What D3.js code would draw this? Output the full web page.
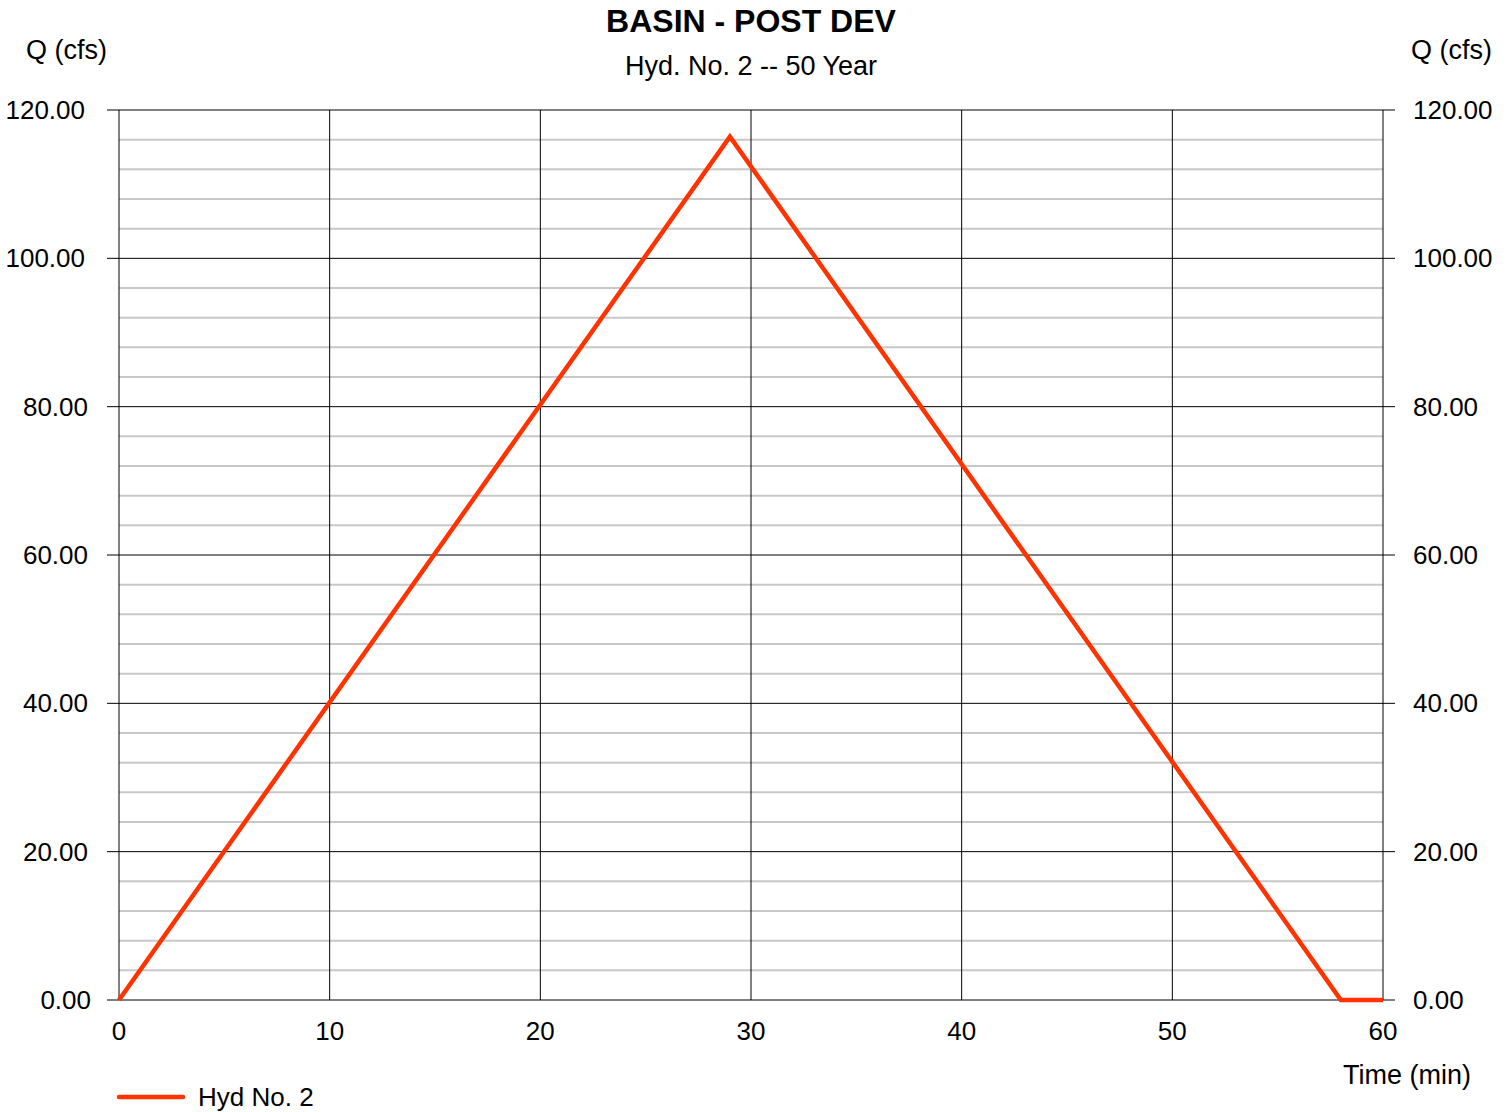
<!DOCTYPE html>
<html>
<head>
<meta charset="utf-8">
<script src="https://cdn.jsdelivr.net/npm/d3@7"></script>
<style>
  body { margin: 0; background: #fff; }
  svg { font-family: "Liberation Sans", Arial, sans-serif; }
</style>
</head>
<body>
<div id="chart"></div>
<script>
const MARGIN = { top: 110, right: 129, bottom: 112, left: 119 };
const W = 1512, H = 1112;
const WIDTH = W - MARGIN.left - MARGIN.right;
const HEIGHT = H - MARGIN.top - MARGIN.bottom;

const TITLE = "BASIN - POST DEV";
const SUBTITLE = "Hyd. No. 2 -- 50 Year";
const SERIES_NAME = "Hyd No. 2";
const timeMin = [0, 29, 58, 60];
const flowCfs = [0, 116.4, 0, 0];
const xTicks = [0, 10, 20, 30, 40, 50, 60];
const yTicks = [0, 20, 40, 60, 80, 100, 120];
const yMinor = d3.range(0, 121, 4).filter(v => v % 20 !== 0);
const LINE_COLOR = "#ff3300";
const FS = 26;

const svg = d3.select("#chart").append("svg")
  .attr("width", W).attr("height", H);

const x = d3.scaleLinear().domain([0, 60]).range([0, WIDTH]);
const y = d3.scaleLinear().domain([0, 120]).range([HEIGHT, 0]);

const g = svg.append("g").attr("transform", `translate(${MARGIN.left},${MARGIN.top})`);

// minor horizontal grid
g.selectAll(".minor").data(yMinor).join("line")
  .attr("x1", 0).attr("x2", WIDTH)
  .attr("y1", d => y(d)).attr("y2", d => y(d))
  .attr("stroke", "#c8c8c8").attr("stroke-width", 2);

// major horizontal grid + ticks on both sides
g.selectAll(".major-y").data(yTicks).join("line")
  .attr("x1", -12).attr("x2", WIDTH + 12)
  .attr("y1", d => y(d)).attr("y2", d => y(d))
  .attr("stroke", "#000").attr("stroke-width", 1);

// vertical grid
g.selectAll(".major-x").data(xTicks).join("line")
  .attr("x1", d => x(d)).attr("x2", d => x(d))
  .attr("y1", 0).attr("y2", HEIGHT)
  .attr("stroke", "#000").attr("stroke-width", 1);

// y labels left (shorter labels sit a little further right, as in the original)
g.selectAll(".yl").data(yTicks).join("text")
  .attr("x", d => -34 + (6 - d.toFixed(2).length) * 3)
  .attr("y", d => y(d)).attr("dy", "0.35em")
  .attr("text-anchor", "end").attr("font-size", FS)
  .text(d => d.toFixed(2));

// y labels right
g.selectAll(".yr").data(yTicks).join("text")
  .attr("x", WIDTH + 30).attr("y", d => y(d)).attr("dy", "0.35em")
  .attr("text-anchor", "start").attr("font-size", FS)
  .text(d => d.toFixed(2));

// x labels
g.selectAll(".xl").data(xTicks).join("text")
  .attr("x", d => x(d)).attr("y", HEIGHT + 40)
  .attr("text-anchor", "middle").attr("font-size", FS)
  .text(d => d);

// hydrograph
const pts = timeMin.map((t, i) => [t, flowCfs[i]]);
g.append("path")
  .datum(pts)
  .attr("fill", "none")
  .attr("stroke", LINE_COLOR)
  .attr("stroke-width", 4.5)
  .attr("stroke-linejoin", "miter")
  .attr("d", d3.line().x(d => x(d[0])).y(d => y(d[1])));

// titles
svg.append("text").attr("x", MARGIN.left + WIDTH / 2).attr("y", 32)
  .attr("text-anchor", "middle").attr("font-size", 32).attr("font-weight", "bold")
  .text(TITLE);
svg.append("text").attr("x", MARGIN.left + WIDTH / 2).attr("y", 75)
  .attr("text-anchor", "middle").attr("font-size", 27)
  .text(SUBTITLE);

svg.append("text").attr("x", 26).attr("y", 59).attr("font-size", 27).text("Q (cfs)");
svg.append("text").attr("x", 1492).attr("y", 59).attr("text-anchor", "end")
  .attr("font-size", 27).text("Q (cfs)");
svg.append("text").attr("x", 1471).attr("y", 1084).attr("text-anchor", "end")
  .attr("font-size", 27).text("Time (min)");

// legend
svg.append("line").attr("x1", 119).attr("x2", 183).attr("y1", 1097).attr("y2", 1097)
  .attr("stroke", LINE_COLOR).attr("stroke-width", 4.5).attr("stroke-linecap", "round");
svg.append("text").attr("x", 198).attr("y", 1106).attr("font-size", 26).text(SERIES_NAME);
</script>
</body>
</html>
